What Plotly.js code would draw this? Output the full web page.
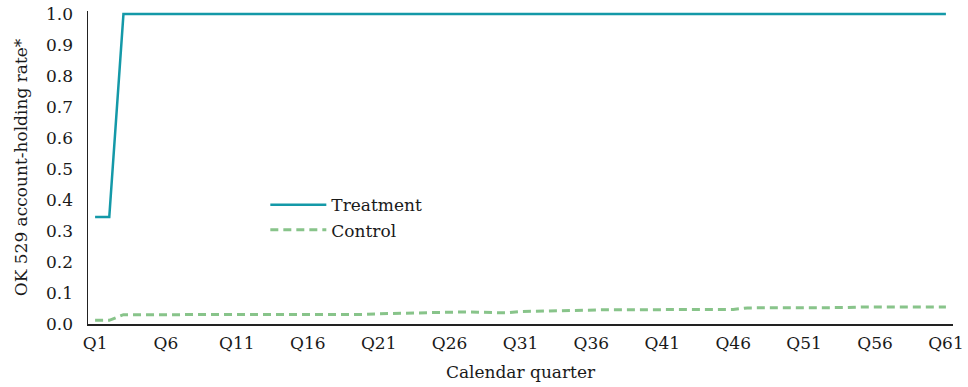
<!DOCTYPE html>
<html>
<head>
<meta charset="utf-8">
<script src="https://cdn.plot.ly/plotly-3.0.1.min.js"></script>
<style>html,body{margin:0;padding:0;background:#fff;}#chart{width:968px;height:387px;}</style>
</head>
<body>
<div id="chart"></div>
<script>
// Quarters Q1..Q61
var quarters = [];
for (var i = 1; i <= 61; i++) quarters.push('Q' + i);

var treatment = [
  0.345, 0.345, 1.0, 1.0, 1.0, 1.0, 1.0, 1.0, 1.0, 1.0,   // Q1-Q10
  1.0, 1.0, 1.0, 1.0, 1.0, 1.0, 1.0, 1.0, 1.0, 1.0,       // Q11-Q20
  1.0, 1.0, 1.0, 1.0, 1.0, 1.0, 1.0, 1.0, 1.0, 1.0,       // Q21-Q30
  1.0, 1.0, 1.0, 1.0, 1.0, 1.0, 1.0, 1.0, 1.0, 1.0,       // Q31-Q40
  1.0, 1.0, 1.0, 1.0, 1.0, 1.0, 1.0, 1.0, 1.0, 1.0,       // Q41-Q50
  1.0, 1.0, 1.0, 1.0, 1.0, 1.0, 1.0, 1.0, 1.0, 1.0,       // Q51-Q60
  1.0];                                                   // Q61

var control = [
  0.012, 0.012, 0.030, 0.030, 0.030, 0.030, 0.030, 0.030, 0.030, 0.030, // Q1-Q10
  0.030, 0.030, 0.030, 0.030, 0.030, 0.030, 0.030, 0.030, 0.030, 0.031, // Q11-Q20
  0.033, 0.034, 0.036, 0.038, 0.039, 0.039, 0.039, 0.038, 0.036, 0.036, // Q21-Q30
  0.040, 0.041, 0.042, 0.045, 0.046, 0.046, 0.046, 0.046, 0.046, 0.046, // Q31-Q40
  0.046, 0.046, 0.046, 0.046, 0.046, 0.047, 0.052, 0.052, 0.052, 0.052, // Q41-Q50
  0.052, 0.052, 0.052, 0.053, 0.055, 0.055, 0.055, 0.055, 0.055, 0.055, // Q51-Q60
  0.055];                                                               // Q61

var tickVals = ['Q1','Q6','Q11','Q16','Q21','Q26','Q31','Q36','Q41','Q46','Q51','Q56','Q61'];
var yTicks = [0, 0.1, 0.2, 0.3, 0.4, 0.5, 0.6, 0.7, 0.8, 0.9, 1.0];

var FONT = 'DejaVu Serif, serif';
var TXT = '#1a1a1a';

var traces = [
  {x: quarters, y: treatment, name: 'Treatment', type: 'scatter', mode: 'lines',
   line: {color: '#1499a8', width: 2.5}},
  {x: quarters, y: control, name: 'Control', type: 'scatter', mode: 'lines',
   line: {color: '#88c48a', width: 3, dash: '8px,5px'}}
];

var layout = {
  width: 968, height: 387,
  margin: {l: 88, r: 15, t: 11, b: 63},
  paper_bgcolor: '#fff', plot_bgcolor: '#fff',
  font: {family: FONT, size: 17, color: TXT},
  showlegend: true,
  legend: {x: 0.205, y: 0.437, xanchor: 'left', yanchor: 'top', bgcolor: 'rgba(0,0,0,0)',
           font: {family: FONT, size: 17, color: TXT}, itemwidth: 56, tracegroupgap: 0},
  xaxis: {type: 'category', range: [-0.5, 60.5], tickmode: 'array', tickvals: tickVals, ticktext: tickVals,
          showgrid: false, zeroline: false, showline: true, linecolor: '#222', linewidth: 1.5,
          ticks: '', ticklabelstandoff: 3,
          title: {text: 'Calendar quarter', font: {family: FONT, size: 17, color: TXT}, standoff: 14}},
  yaxis: {range: [0, 1.01], tickmode: 'array', tickvals: yTicks, ticktext: yTicks.map(function(v){return v.toFixed(1);}),
          showgrid: false, zeroline: false, showline: true, linecolor: '#222', linewidth: 1.5,
          ticks: '', ticklabelstandoff: 10,
          title: {text: 'OK 529 account-holding rate*', font: {family: FONT, size: 17, color: TXT}, standoff: 14}}
};

Plotly.newPlot('chart', traces, layout, {displayModeBar: false, staticPlot: true});
</script>
</body>
</html>
